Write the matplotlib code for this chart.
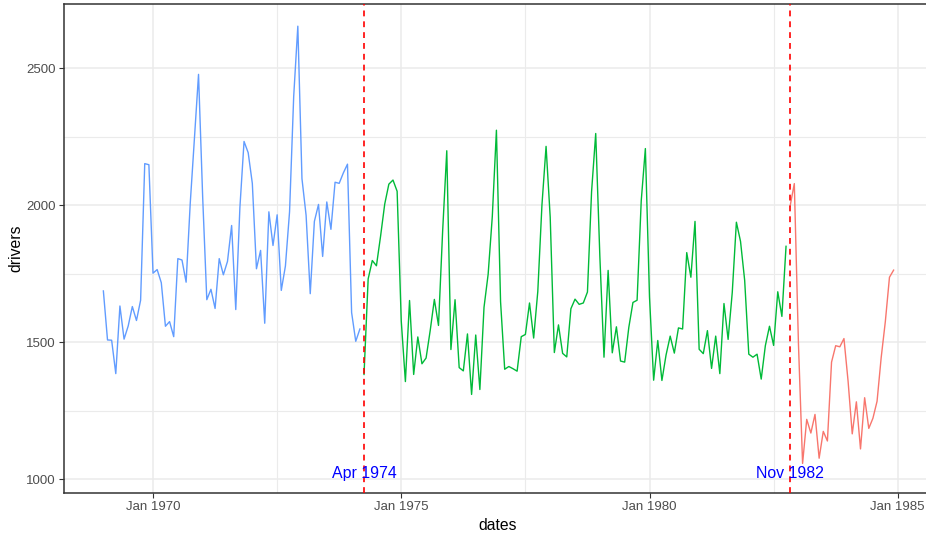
import matplotlib
matplotlib.use("Agg")
import matplotlib.pyplot as plt
import numpy as np
from matplotlib.ticker import FixedLocator

plt.rcParams['font.family'] = ['Liberation Sans', 'DejaVu Sans']

# monthly UK drivers killed or seriously injured, Jan 1969 - Dec 1984
drivers = [
    1687, 1508, 1507, 1385, 1632, 1511, 1559, 1630, 1579, 1653, 2152, 2148,
    1752, 1765, 1717, 1558, 1575, 1520, 1805, 1800, 1719, 2008, 2242, 2478,
    2030, 1655, 1693, 1623, 1805, 1746, 1795, 1926, 1619, 1992, 2233, 2192,
    2080, 1768, 1835, 1569, 1976, 1853, 1965, 1689, 1778, 1976, 2397, 2654,
    2097, 1963, 1677, 1941, 2003, 1813, 2012, 1912, 2084, 2080, 2118, 2150,
    1608, 1503, 1548, 1382, 1731, 1798, 1779, 1887, 2004, 2077, 2092, 2051,
    1577, 1356, 1652, 1382, 1519, 1421, 1442, 1543, 1656, 1561, 1905, 2199,
    1473, 1655, 1407, 1395, 1530, 1309, 1526, 1327, 1627, 1748, 1958, 2274,
    1648, 1401, 1411, 1403, 1394, 1520, 1528, 1643, 1515, 1685, 2000, 2215,
    1956, 1462, 1563, 1459, 1446, 1622, 1657, 1638, 1643, 1683, 2050, 2262,
    1813, 1445, 1762, 1461, 1556, 1431, 1427, 1554, 1645, 1653, 2016, 2207,
    1665, 1361, 1506, 1360, 1453, 1522, 1460, 1552, 1548, 1827, 1737, 1941,
    1474, 1458, 1542, 1404, 1522, 1385, 1641, 1510, 1681, 1938, 1868, 1726,
    1456, 1445, 1456, 1365, 1487, 1558, 1488, 1684, 1594, 1850, 1998, 2079,
    1494, 1057, 1218, 1168, 1236, 1076, 1174, 1139, 1427, 1487, 1483, 1513,
    1357, 1165, 1282, 1110, 1297, 1185, 1222, 1284, 1444, 1575, 1737, 1763,
]
start_year = 1969
# break points (decimal years) and their labels
breaks = [1974 + 3 / 12, 1982 + 10 / 12]
break_labels = ['Apr 1974', 'Nov 1982']
seg_colors = ['#619CFF', '#00BA38', '#F8766D']
xticks = [1970, 1975, 1980, 1985]
xtick_labels = ['Jan 1970', 'Jan 1975', 'Jan 1980', 'Jan 1985']
yticks = [1000, 1500, 2000, 2500]

dates = start_year + np.arange(len(drivers)) / 12
drivers = np.array(drivers)

fig = plt.figure(figsize=(9.26, 5.34), dpi=100)
ax = fig.add_axes([64 / 926, 41 / 534, 868 / 926, 489 / 534])

edges = [dates[0] - 1] + breaks + [dates[-1] + 1]
for i in range(3):
    m = (dates >= edges[i] - 1e-9) & (dates < edges[i + 1] - 1e-9)
    ax.plot(dates[m], drivers[m], color=seg_colors[i], lw=1.0, zorder=3)

for b, lab in zip(breaks, break_labels):
    ax.axvline(b, color='red', ls=(0, (3.5, 3)), lw=1.2, zorder=4)
    ax.text(b, 1022, lab, color='blue', fontsize=11.4, ha='center', va='center', zorder=5)

ax.set_xlim(1968.207, 1985.69)
ax.set_ylim(949, 2735)
ax.set_xticks(xticks)
ax.set_xticklabels(xtick_labels)
ax.set_yticks(yticks)
ax.xaxis.set_minor_locator(FixedLocator([1967.5, 1972.5, 1977.5, 1982.5]))
ax.yaxis.set_minor_locator(FixedLocator([1250, 1750, 2250]))
ax.grid(which='major', color='#EBEBEB', lw=1.1, zorder=0)
ax.grid(which='minor', color='#EBEBEB', lw=0.8, zorder=0)
ax.set_axisbelow(True)
ax.tick_params(which='minor', length=0)
ax.tick_params(which='major', length=3.5, width=0.8, color='#333333',
               labelcolor='#4D4D4D', labelsize=9.5, pad=2.5)
for s in ax.spines.values():
    s.set_color('#333333')
    s.set_linewidth(1.1)

ax.set_xlabel('dates', fontsize=11.3, labelpad=3)
ax.set_ylabel('drivers', fontsize=11.3, labelpad=2)

fig.savefig('out.png', dpi=100)
